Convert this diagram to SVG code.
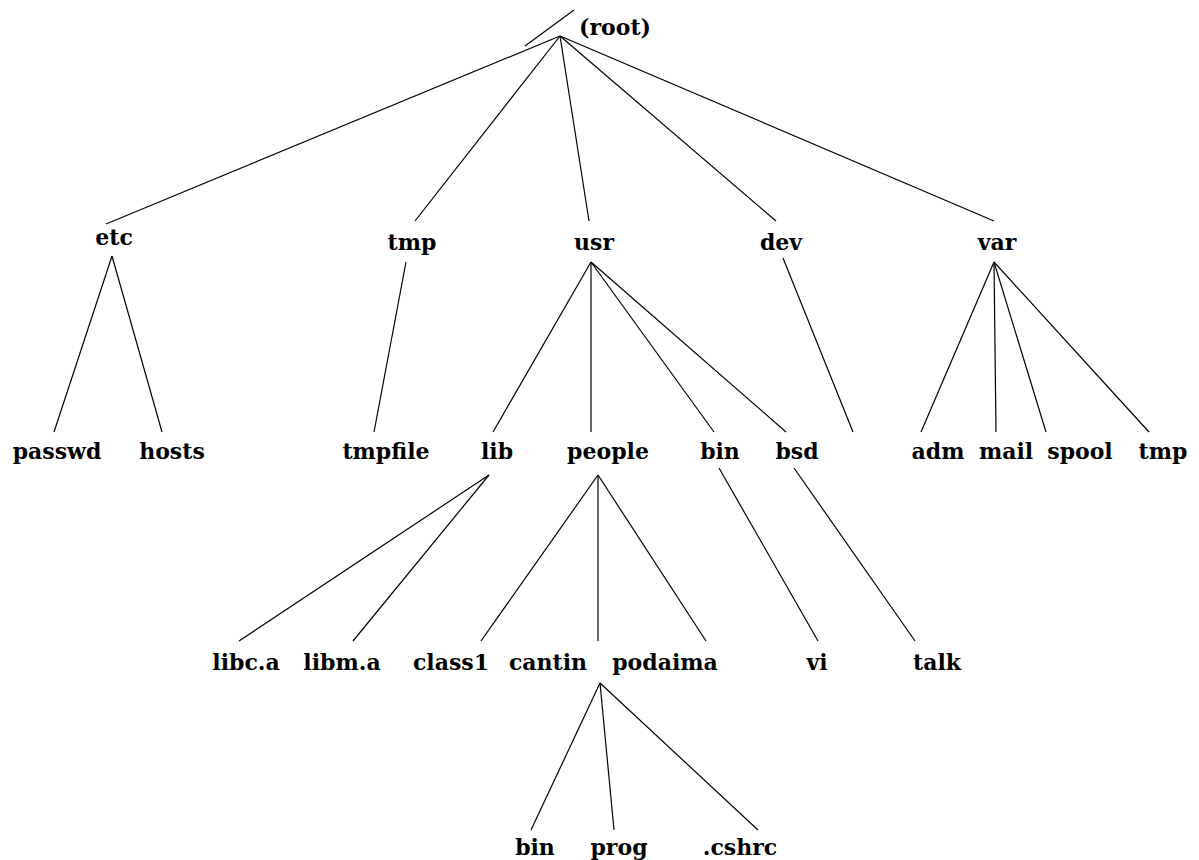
<svg xmlns="http://www.w3.org/2000/svg" width="1199" height="860" viewBox="0 0 1199 860">
<style>
text{font-family:"DejaVu Serif","Liberation Serif",serif;font-weight:bold;font-size:22px;fill:#000;text-anchor:middle}
line{stroke:#000;stroke-width:1.2}
</style>
<rect width="1199" height="860" fill="#fff"/>
<g id="connectors">
<line x1="525" y1="46" x2="574" y2="10"/>
<line x1="560" y1="36" x2="106" y2="224"/>
<line x1="560" y1="36" x2="415" y2="221"/>
<line x1="560" y1="36" x2="589" y2="221"/>
<line x1="560" y1="36" x2="776" y2="221"/>
<line x1="560" y1="36" x2="994" y2="221"/>
<line x1="112" y1="256" x2="54" y2="432"/>
<line x1="112" y1="256" x2="162" y2="432"/>
<line x1="406" y1="262" x2="374" y2="432"/>
<line x1="591" y1="262" x2="493" y2="432"/>
<line x1="591" y1="262" x2="591" y2="432"/>
<line x1="591" y1="262" x2="714" y2="432"/>
<line x1="591" y1="262" x2="786" y2="432"/>
<line x1="783" y1="258" x2="853" y2="432"/>
<line x1="994" y1="262" x2="921" y2="432"/>
<line x1="994" y1="262" x2="996" y2="432"/>
<line x1="994" y1="262" x2="1046" y2="432"/>
<line x1="994" y1="262" x2="1149" y2="432"/>
<line x1="489" y1="475" x2="239" y2="641"/>
<line x1="489" y1="475" x2="353" y2="641"/>
<line x1="598" y1="475" x2="481" y2="641"/>
<line x1="598" y1="475" x2="598" y2="641"/>
<line x1="598" y1="475" x2="706" y2="641"/>
<line x1="719" y1="468" x2="818" y2="641"/>
<line x1="794" y1="468" x2="915" y2="641"/>
<line x1="600" y1="683" x2="531" y2="830"/>
<line x1="600" y1="683" x2="614" y2="830"/>
<line x1="600" y1="683" x2="758" y2="830"/>
</g>
<g id="root"><text x="615" y="35">(root)</text></g>
<g id="etc"><text x="114" y="245">etc</text></g>
<g id="tmp"><text x="412" y="250">tmp</text></g>
<g id="usr"><text x="594" y="250">usr</text></g>
<g id="dev"><text x="781" y="250">dev</text></g>
<g id="var"><text x="997" y="250">var</text></g>
<g id="passwd"><text x="57" y="459">passwd</text></g>
<g id="hosts"><text x="172" y="459">hosts</text></g>
<g id="tmpfile"><text x="386" y="459">tmpfile</text></g>
<g id="lib"><text x="497" y="459">lib</text></g>
<g id="people"><text x="608" y="459">people</text></g>
<g id="bin1"><text x="720" y="459">bin</text></g>
<g id="bsd"><text x="797" y="459">bsd</text></g>
<g id="adm"><text x="938" y="459">adm</text></g>
<g id="mail"><text x="1006" y="459">mail</text></g>
<g id="spool"><text x="1080" y="459">spool</text></g>
<g id="tmp2"><text x="1163" y="459">tmp</text></g>
<g id="libc"><text x="246" y="670">libc.a</text></g>
<g id="libm"><text x="342" y="670">libm.a</text></g>
<g id="class1"><text x="451" y="670">class1</text></g>
<g id="cantin"><text x="548" y="670">cantin</text></g>
<g id="podaima"><text x="665" y="670">podaima</text></g>
<g id="vi"><text x="817" y="670">vi</text></g>
<g id="talk"><text x="937" y="670">talk</text></g>
<g id="bin2"><text x="535" y="855">bin</text></g>
<g id="prog"><text x="619" y="855">prog</text></g>
<g id="cshrc"><text x="740" y="855">.cshrc</text></g>
</svg>
